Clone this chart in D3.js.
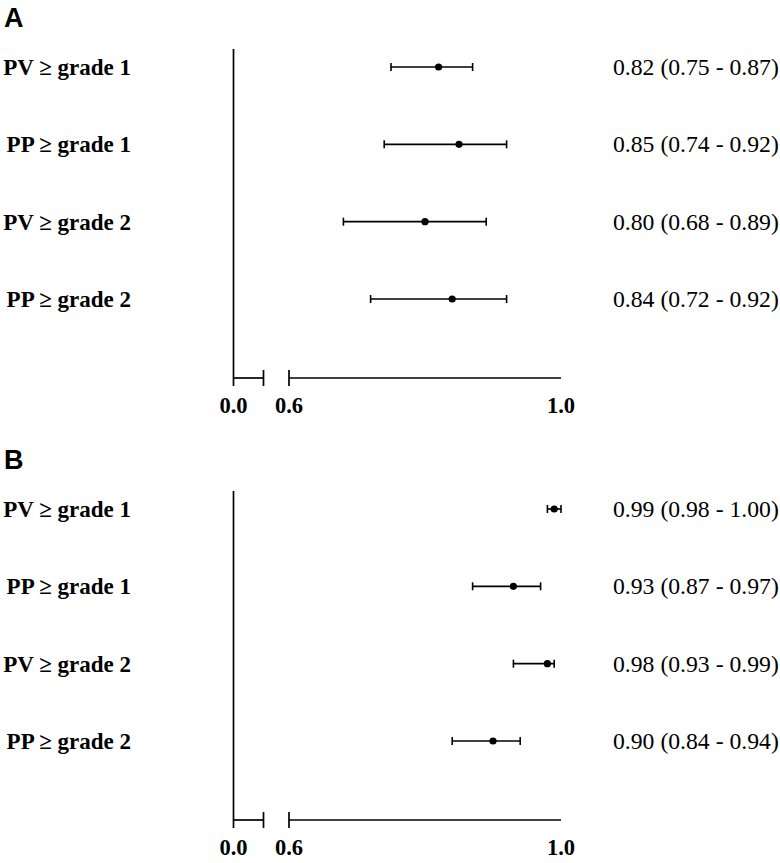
<!DOCTYPE html>
<html><head><meta charset="utf-8">
<script src="https://cdn.jsdelivr.net/npm/d3@7"></script>
<style>body{margin:0;background:#fff}</style>
</head><body>
<svg id="c" width="780" height="863"></svg>
<script>
const categories = ["PV \u2265 grade 1", "PP \u2265 grade 1", "PV \u2265 grade 2", "PP \u2265 grade 2"];
const estA = [0.82, 0.85, 0.80, 0.84];
const lowA = [0.75, 0.74, 0.68, 0.72];
const highA = [0.87, 0.92, 0.89, 0.92];
const estB = [0.99, 0.93, 0.98, 0.90];
const lowB = [0.98, 0.87, 0.93, 0.84];
const highB = [1.00, 0.97, 0.99, 0.94];
const panels = ["A", "B"];
const tickLabels = ["0.0", "0.6", "1.0"];

const svg = d3.select("#c");
const serif = "'Liberation Serif','Times New Roman',serif";

function panel(label, top, est, low, high) {
  const g = svg.append("g").attr("transform", `translate(0,${top})`);
  g.append("text").attr("x", 4).attr("y", 27).text(label)
    .attr("font-family", "'Liberation Sans',Arial,sans-serif").attr("font-weight", "bold").attr("font-size", 27);
  const xLeft = d3.scaleLinear().domain([0, 0.044]).range([233.5, 263.5]);
  const xMain = d3.scaleLinear().domain([0.6, 1.0]).range([289, 561]);
  const y = d3.scalePoint().domain(categories).range([67, 299]);
  const axisY = 378;
  const stroke = "#000";
  const sw = 1.7;
  g.append("line").attr("x1", 233.5).attr("x2", 233.5).attr("y1", 49).attr("y2", axisY + 8)
    .attr("stroke", stroke).attr("stroke-width", sw);
  g.append("line").attr("x1", xLeft(0)).attr("x2", xLeft(0.044)).attr("y1", axisY).attr("y2", axisY)
    .attr("stroke", stroke).attr("stroke-width", sw);
  g.append("line").attr("x1", xLeft(0.044)).attr("x2", xLeft(0.044)).attr("y1", axisY - 8).attr("y2", axisY + 8)
    .attr("stroke", stroke).attr("stroke-width", sw);
  g.append("line").attr("x1", xMain(0.6)).attr("x2", xMain(1.0)).attr("y1", axisY).attr("y2", axisY)
    .attr("stroke", stroke).attr("stroke-width", sw);
  g.append("line").attr("x1", xMain(0.6)).attr("x2", xMain(0.6)).attr("y1", axisY - 8).attr("y2", axisY + 8)
    .attr("stroke", stroke).attr("stroke-width", sw);
  const tickPos = [xLeft(0), xMain(0.6), xMain(1.0)];
  tickLabels.forEach((t, i) => {
    g.append("text").attr("x", tickPos[i]).attr("y", axisY + 35).attr("text-anchor", "middle")
      .attr("font-family", serif).attr("font-weight", "bold").attr("font-size", 22.5).text(t);
  });
  categories.forEach((c, i) => {
    const yy = y(c);
    g.append("text").attr("x", 131).attr("y", yy + 8).attr("text-anchor", "end")
      .attr("font-family", serif).attr("font-weight", "bold").attr("font-size", 23).text(c);
    g.append("line").attr("x1", xMain(low[i])).attr("x2", xMain(high[i])).attr("y1", yy).attr("y2", yy)
      .attr("stroke", stroke).attr("stroke-width", 1.6);
    [low[i], high[i]].forEach(v => {
      g.append("line").attr("x1", xMain(v)).attr("x2", xMain(v)).attr("y1", yy - 4).attr("y2", yy + 4)
        .attr("stroke", stroke).attr("stroke-width", 1.6);
    });
    g.append("circle").attr("cx", xMain(est[i])).attr("cy", yy).attr("r", 3.6).attr("fill", stroke);
    g.append("text").attr("x", 613).attr("y", yy + 8)
      .attr("font-family", serif).attr("font-size", 23.7)
      .text(`${est[i].toFixed(2)} (${low[i].toFixed(2)} - ${high[i].toFixed(2)})`);
  });
}
panel(panels[0], 0, estA, lowA, highA);
panel(panels[1], 442, estB, lowB, highB);
</script>
</body></html>
